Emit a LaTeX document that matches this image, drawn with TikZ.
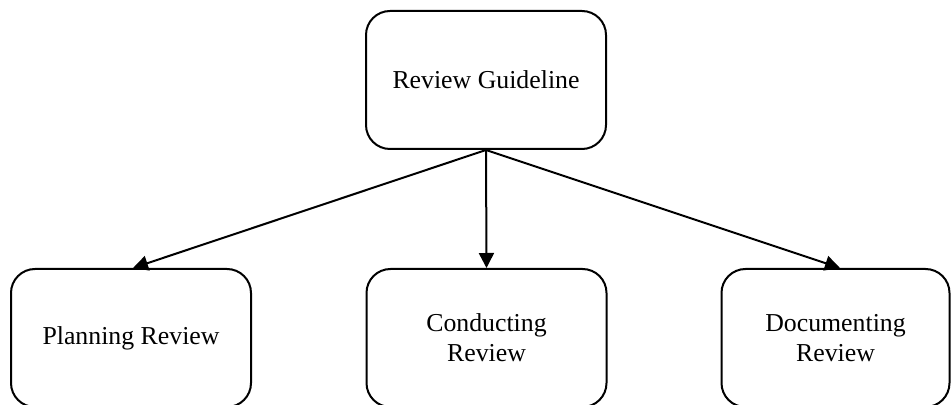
\documentclass[tikz,border=0pt]{standalone}
\usepackage{fontspec}
\setmainfont{Liberation Serif}
\usetikzlibrary{arrows.meta}
\begin{document}
\begin{tikzpicture}[x=0.5pt,y=-0.5pt,
  box/.style={draw, line width=1pt, rounded corners=12pt, minimum width=120pt, minimum height=69pt,
    align=center, inner sep=0pt, font=\fontsize{12.9}{15}\selectfont},
  arr/.style={line width=1pt, -{Triangle[length=7.5pt,width=7.5pt]}}]
\useasboundingbox (0,0) rectangle (952,405);
\node[box] (rg) at (486,80) {Review Guideline};
\node[box] (pr) at (131,338) {Planning Review};
\node[box] (cr) at (486.5,338) {Conducting\\Review};
\node[box, minimum width=114pt] (dr) at (835.5,338) {Documenting\\Review};
\draw[arr] (rg.south) -- ([xshift=1pt]pr.north);
\draw[arr] (rg.south) -- (cr.north);
\draw[arr] (rg.south) -- ([xshift=2.25pt]dr.north);
\end{tikzpicture}
\end{document}
